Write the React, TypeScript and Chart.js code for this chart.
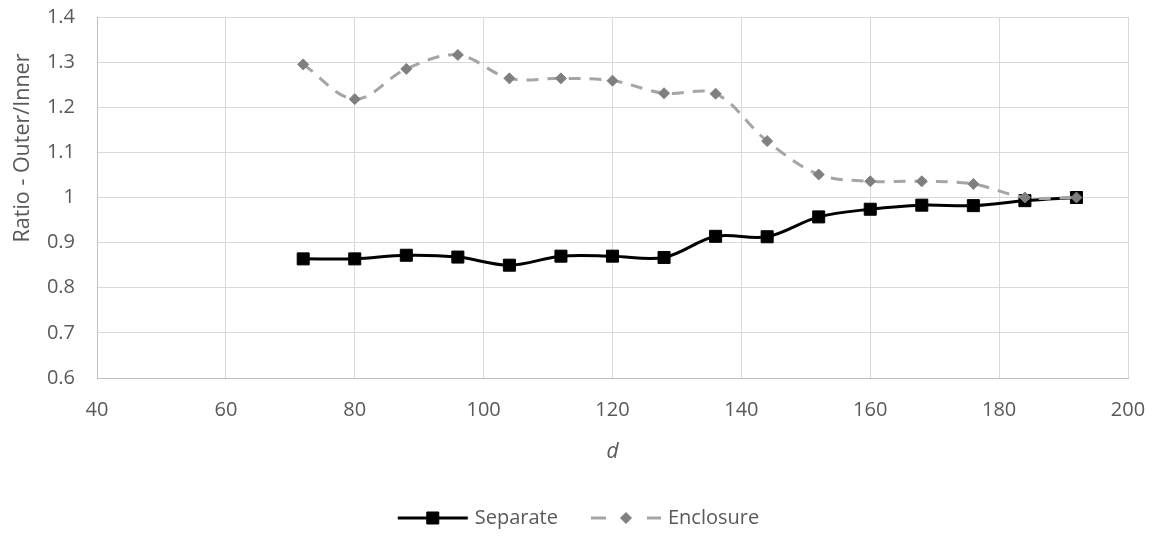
import React, { useEffect, useRef } from "react";
import { Chart, registerables } from "chart.js";

Chart.register(...registerables);

// Spacing d along the x axis
const dValues = [72, 80, 88, 96, 104, 112, 120, 128, 136, 144, 152, 160, 168, 176, 184, 192];

// Outer/inner ratio for each layout
const separateRatio = [0.864, 0.864, 0.872, 0.868, 0.85, 0.87, 0.87, 0.867, 0.914, 0.913, 0.957, 0.974, 0.983, 0.982, 0.993, 1.0];
const enclosureRatio = [1.295, 1.218, 1.285, 1.316, 1.264, 1.264, 1.259, 1.231, 1.23, 1.125, 1.051, 1.036, 1.036, 1.03, 1.0, 1.0];

const seriesNames = ["Separate", "Enclosure"];

const xMin = 40;
const xMax = 200;
const xStep = 20;
const yMin = 0.6;
const yMax = 1.4;
const yStep = 0.1;

const xTitle = "d";
const yTitle = "Ratio - Outer/Inner";

const FONT = "'Open Sans', sans-serif";
const TEXT = "#595959";
const GRID = "#d9d9d9";

// Rotated y-axis caption, placed a little above the plot's middle
const sideTitlePlugin = {
  id: "sideTitle",
  afterDraw(chart: any) {
    const { ctx, chartArea } = chart;
    ctx.save();
    ctx.translate(23, chartArea.top + 131);
    ctx.rotate(-Math.PI / 2);
    ctx.font = `21.5px ${FONT}`;
    ctx.fillStyle = TEXT;
    ctx.textAlign = "center";
    ctx.textBaseline = "middle";
    ctx.fillText(yTitle, 0, 0);
    ctx.restore();
  },
};

function drawMarker(ctx: CanvasRenderingContext2D, style: string, x: number, y: number, r: number, fill: string) {
  ctx.save();
  ctx.fillStyle = fill;
  ctx.strokeStyle = fill;
  ctx.lineWidth = 1;
  ctx.setLineDash([]);
  ctx.beginPath();
  if (style === "rect") {
    const h = r * Math.SQRT1_2;
    ctx.rect(x - h, y - h, 2 * h, 2 * h);
  } else {
    ctx.moveTo(x - r, y);
    ctx.lineTo(x, y - r);
    ctx.lineTo(x + r, y);
    ctx.lineTo(x, y + r);
    ctx.closePath();
  }
  ctx.fill();
  ctx.stroke();
  ctx.restore();
}

// Legend with line + marker samples, centred under the chart
const lineLegendPlugin = {
  id: "lineLegend",
  afterDraw(chart: any) {
    const { ctx } = chart;
    const y = 518;
    const sampleW = 70;
    const textGap = 7;
    const itemGap = 33;
    ctx.save();
    ctx.font = `20px ${FONT}`;
    const items = chart.data.datasets.map((ds: any) => ({ ds, w: ctx.measureText(ds.label).width }));
    const total =
      items.reduce((s: number, it: any) => s + sampleW + textGap + it.w, 0) + itemGap * (items.length - 1);
    let x = chart.width / 2 - total / 2;
    items.forEach(({ ds, w }: any) => {
      ctx.save();
      ctx.strokeStyle = ds.borderColor;
      ctx.lineWidth = ds.borderWidth;
      ctx.setLineDash(ds.borderDash ? [15, 41] : []);
      ctx.beginPath();
      ctx.moveTo(x, y);
      ctx.lineTo(x + sampleW, y);
      ctx.stroke();
      ctx.restore();
      drawMarker(ctx, ds.pointStyle, x + sampleW / 2, y, ds.pointRadius, ds.pointBackgroundColor);
      ctx.fillStyle = TEXT;
      ctx.textAlign = "left";
      ctx.textBaseline = "middle";
      ctx.fillText(ds.label, x + sampleW + textGap, y);
      x += sampleW + textGap + w + itemGap;
    });
    ctx.restore();
  },
};

export default function App() {
  const canvasRef = useRef<HTMLCanvasElement | null>(null);

  useEffect(() => {
    const canvas = canvasRef.current;
    if (!canvas) return;

    const chart = new Chart(canvas, {
      type: "line",
      data: {
        datasets: [
          {
            label: seriesNames[0],
            data: dValues.map((d, i) => ({ x: d, y: separateRatio[i] })),
            borderColor: "#000000",
            borderWidth: 3,
            pointStyle: "rect",
            pointRadius: 8.5,
            pointHoverRadius: 8.5,
            pointBorderWidth: 1,
            pointBackgroundColor: "#000000",
            pointBorderColor: "#000000",
            tension: 0.35,
            order: 1,
          },
          {
            label: seriesNames[1],
            data: dValues.map((d, i) => ({ x: d, y: enclosureRatio[i] })),
            borderColor: "#a5a5a5",
            borderWidth: 3,
            borderDash: [12, 9],
            pointStyle: "rectRot",
            pointRadius: 5.5,
            pointHoverRadius: 5.5,
            pointBorderWidth: 1,
            pointBackgroundColor: "#7f7f7f",
            pointBorderColor: "#7f7f7f",
            tension: 0.35,
            order: 0,
          },
        ],
      },
      options: {
        responsive: false,
        animation: false,
        devicePixelRatio: 1,
        layout: { padding: { top: 17, right: 29, left: 0, bottom: 0 } },
        plugins: {
          legend: { display: false },
          tooltip: { enabled: false },
        },
        scales: {
          x: {
            type: "linear",
            min: xMin,
            max: xMax,
            afterFit: (scale: any) => {
              scale.height = 158;
              scale.paddingLeft = 0;
              scale.paddingRight = 0;
            },
            ticks: {
              stepSize: xStep,
              color: TEXT,
              font: { family: FONT, size: 20 },
              padding: 20,
              maxRotation: 0,
            },
            grid: { color: GRID, lineWidth: 1, drawTicks: false },
            border: { color: "#bfbfbf", width: 1 },
            title: {
              display: true,
              text: xTitle,
              color: TEXT,
              font: { family: FONT, size: 21, style: "italic" },
              padding: { top: 0, bottom: 71 },
            },
          },
          y: {
            type: "linear",
            min: yMin,
            max: yMax,
            afterFit: (scale: any) => {
              scale.width = 97;
              scale.paddingTop = 0;
              scale.paddingBottom = 0;
            },
            ticks: {
              stepSize: yStep,
              color: TEXT,
              font: { family: FONT, size: 20 },
              padding: 22,
              callback: (v: any) => String(Math.round(Number(v) * 10) / 10),
            },
            grid: { color: GRID, lineWidth: 1, drawTicks: false },
            border: { color: "#bfbfbf", width: 1 },
          },
        },
      },
      plugins: [sideTitlePlugin, lineLegendPlugin],
    });

    return () => chart.destroy();
  }, []);

  return (
    <div style={{ position: "fixed", left: 0, top: 0, width: 1157, height: 536, background: "#ffffff" }}>
      <canvas ref={canvasRef} width={1157} height={536} style={{ display: "block" }} />
    </div>
  );
}
